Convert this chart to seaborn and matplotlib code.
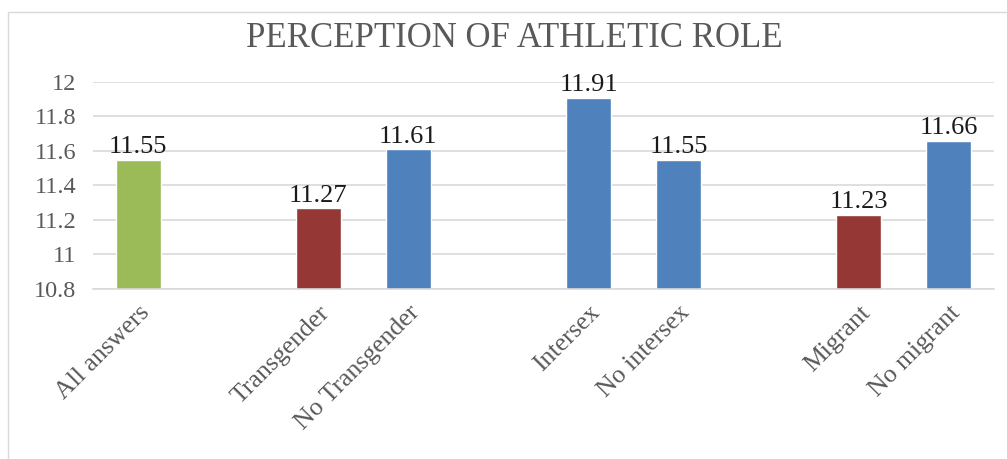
import matplotlib
matplotlib.use("Agg")
import matplotlib.pyplot as plt
import seaborn as sns
import pandas as pd
from matplotlib.patches import Rectangle

categories = ["All answers", "Transgender", "No Transgender", "Intersex",
              "No intersex", "Migrant", "No migrant"]
values = [11.55, 11.27, 11.61, 11.91, 11.55, 11.23, 11.66]
groups = ["all", "yes", "no", "no", "no", "yes", "no"]

# empty slots between groups
order = ["All answers", "gap1", "Transgender", "No Transgender", "gap2",
         "Intersex", "No intersex", "gap3", "Migrant", "No migrant"]
tick_labels = ["All answers", "", "Transgender", "No Transgender", "",
               "Intersex", "No intersex", "", "Migrant", "No migrant"]

palette = {"all": "#9BBB59", "yes": "#953735", "no": "#4F81BD"}

df = pd.DataFrame({"category": categories, "value": values, "group": groups})

sns.set_style("white")
plt.rcParams["font.family"] = ["Liberation Serif", "DejaVu Serif"]

fig = plt.figure(figsize=(10.07, 4.59), dpi=100)
ax = fig.add_axes([93 / 1007, 1 - 289 / 459, (994 - 93) / 1007, (289 - 82) / 459])

sns.barplot(
    data=df,
    x="category",
    y="value",
    hue="group",
    order=order,
    palette=palette,
    saturation=1,
    width=0.5,
    dodge=False,
    legend=False,
    ax=ax
)

ax.set_ylim(10.8, 12)
ax.set_yticks([10.8, 11, 11.2, 11.4, 11.6, 11.8, 12])
ax.set_yticklabels(["10.8", "11", "11.2", "11.4", "11.6", "11.8", "12"])
ax.yaxis.grid(True, color="#D9D9D9", linewidth=1.2)
ax.set_axisbelow(True)
for s in ["top", "right", "left"]:
    ax.spines[s].set_visible(False)
ax.spines["bottom"].set_color("#D9D9D9")
ax.spines["bottom"].set_linewidth(1.2)

ax.set_xlabel("")
ax.set_ylabel("")
ax.tick_params(axis="y", length=0, pad=12, labelsize=17.5, labelcolor="#595959")
ax.tick_params(axis="x", length=0, pad=9, labelsize=18.5, labelcolor="#595959")
ax.set_xticks(range(len(order)))
ax.set_xticklabels(tick_labels, rotation=45, ha="right", rotation_mode="anchor")

for container in ax.containers:
    ax.bar_label(container, fmt="%.2f", fontsize=19, color="#1A1A1A", padding=1)

fig.text(514 / 1007, 1 - 47 / 459, "PERCEPTION OF ATHLETIC ROLE",
         ha="center", va="baseline", fontsize=25, color="#595959")

# chart frame
fig.patches.append(Rectangle((8 / 1007, -0.1), 1.2, 1 - 12 / 459 + 0.1,
                             transform=fig.transFigure, fill=False,
                             edgecolor="#D9D9D9", linewidth=1))

plt.savefig("out.png", dpi=100)
